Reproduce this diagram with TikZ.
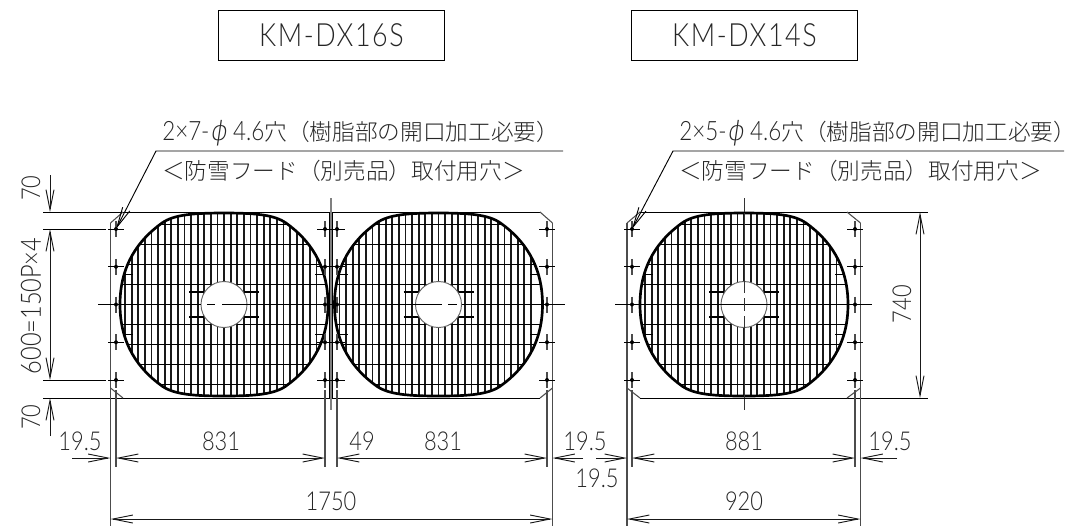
\documentclass[tikz,border=0pt]{standalone}
\usepackage{fontspec}
\usepackage{tikz}
\usetikzlibrary{arrows.meta}
\usetikzlibrary{calc}
\usetikzlibrary{positioning}
\setmainfont{Lato Light}[FakeStretch=0.84]
\newfontfamily\jpfont{Noto Sans CJK JP Light}
\newfontfamily\phifont{DejaVu Sans ExtraLight}[FakeSlant=0.15]

\tikzset{
    >={Straight Barb[length=15pt,width=6pt]},
    thinline/.style={line width=0.7pt},
    edgeline/.style={line width=0.8pt, black!70},
    dimline/.style={draw, line width=0.7pt, black!90},
    dimtext/.style={inner sep=0pt, font=\fontsize{19.5}{20}\selectfont, black!85},
    notetext/.style={inner sep=0pt, anchor=west, font=\fontsize{20}{20}\selectfont, black!85},
    modelbox/.style={draw, line width=0.7pt, minimum width=170pt, minimum height=37.5pt, font=\fontsize{24}{24}\selectfont\addfontfeature{LetterSpace=5}, text=black!85},
}

% grille centred on (#1,304.5)
\newcommand{\grille}[1]{
    \begin{scope}[shift={(#1,304.5)}]
        \begin{scope}
            \clip (-104,0) .. controls (-104,-40) and (-85,-65) .. (-62,-81.5) .. controls (-50,-90) and (-30,-91.5) .. (0,-91.5) .. controls (30,-91.5) and (50,-90) .. (62,-81.5) .. controls (85,-65) and (104,-40) .. (104,0) .. controls (104,40) and (85,65) .. (62,81.5) .. controls (50,90) and (30,91.5) .. (0,91.5) .. controls (-30,91.5) and (-50,90) .. (-62,81.5) .. controls (-85,65) and (-104,40) .. (-104,0) -- cycle;
            \foreach \barx in {-99,-92.4,...,99}
                \path[draw, line width=1.35pt, black!90] (\barx,-95) -- (\barx,95);
            \foreach \bary in {-80,-60,...,80}
                \path[draw, line width=1.3pt] (-110,\bary) -- (110,\bary);
            \foreach \s in {-1,1}
                \path[draw, thinline] (\s*104,-30) -- (\s*91,-30) (\s*104,30) -- (\s*91,30);
        \end{scope}
        \path[draw, line width=2pt] (-104,0) .. controls (-104,-40) and (-85,-65) .. (-62,-81.5) .. controls (-50,-90) and (-30,-91.5) .. (0,-91.5) .. controls (30,-91.5) and (50,-90) .. (62,-81.5) .. controls (85,-65) and (104,-40) .. (104,0) .. controls (104,40) and (85,65) .. (62,81.5) .. controls (50,90) and (30,91.5) .. (0,91.5) .. controls (-30,91.5) and (-50,90) .. (-62,81.5) .. controls (-85,65) and (-104,40) .. (-104,0) -- cycle;
        \path[draw, line width=1pt] (-35,-12.5) -- (35,-12.5) (-35,12.5) -- (35,12.5);
        \path[draw=black!60, fill=white, line width=0.7pt] (0,0) circle (23);
    \end{scope}
}

% mounting hole
\newcommand{\mounthole}[2]{
    \path[draw, thinline] (#1-8,#2) -- (#1+8,#2);
    \path[draw, line width=0.9pt, black!70] (#1,#2-8) -- (#1,#2+8);
    \path[fill] (#1,#2) circle (2);
}

\begin{document}
\begin{tikzpicture}[x=0.75pt, y=-0.75pt]

    \useasboundingbox (0,0) rectangle (1066,526);

    \node[modelbox] (boxa) at (331.5,35) {KM-DX16S};
    \node[modelbox] (boxb) at (744.5,35) {KM-DX14S};

    \grille{224}
    \grille{438.5}
    \grille{744}

    % centre lines
    \path[draw, thinline] (98,304.5) -- (201,304.5) (207,304.5) -- (215,304.5) (222,304.5) -- (441.5,304.5) (448,304.5) -- (457,304.5) (463,304.5) -- (565,304.5);
    \path[draw, thinline] (615,304.5) -- (872,304.5);
    \path[draw, thinline, black!80] (744,198) -- (744,293) (744,298) -- (744,311) (744,316) -- (744,410);

    % outlines
    \path[draw, thinline] (43,212) -- (540,212);
    \path[draw, thinline] (43,398) -- (540,398);
    \path[draw, thinline] (640,212) -- (928,212);
    \path[draw, thinline] (640,398) -- (928,398);
    \path[draw, edgeline] (123,212) -- (110.5,223);
    \path[draw, edgeline] (123,398) -- (110.5,388);
    \path[draw, edgeline] (110.5,223) -- (110.5,526);
    \path[draw, edgeline] (540,212) -- (552.5,223);
    \path[draw, edgeline] (540,398) -- (552.5,388);
    \path[draw, edgeline] (552.5,223) -- (552.5,526);
    \path[draw, edgeline] (640,212) -- (627,223);
    \path[draw, edgeline] (640,398) -- (627,388);
    \path[draw, edgeline] (627,223) -- (627,526);
    \path[draw, edgeline] (847,212) -- (860.5,223);
    \path[draw, edgeline] (847,398) -- (860.5,388);
    \path[draw, edgeline] (860.5,223) -- (860.5,526);

    % divider
    \path[draw, line width=1.6pt, black!50] (331,198) -- (331,410);
    \path[draw, line width=0.9pt, black] (329.5,212) -- (329.5,398) (332.5,212) -- (332.5,398);

    \foreach \y in {229,266.75,304.5,342.25,380} {
        \foreach \x in {116,325,337,547,632,855} {
            \mounthole{\x}{\y}
        }
    }

    % extension lines
    \path[draw, thinline] (43,229) -- (106,229);
    \path[draw, thinline] (43,380) -- (106,380);
    \foreach \x in {116,325,337,547,632,855}
        \path[draw, edgeline] (\x,390) -- (\x,467);

    % leaders
    \coordinate (hola) at (116,229);
    \coordinate (kinka) at (156,151);
    \coordinate (enda) at (563,151);
    \coordinate (holb) at (632,229);
    \coordinate (kinkb) at (673,151);
    \coordinate (endb) at (1064,151);
    \path[draw, thinline, ->] (enda) -- (kinka) -- (hola);
    \path[draw, thinline, ->] (endb) -- (kinkb) -- (holb);

    \node[notetext] (notea) at (162,133) {2×7-{\phifont ϕ} 4.6{\jpfont\fontsize{17}{17}\selectfont 穴（樹脂部の開口加工必要）}};
    \node[notetext] (noteb) at (162,171) {\jpfont\fontsize{17}{17}\selectfont ＜防雪フード（別売品）取付用穴＞};
    \node[notetext] (notec) at (679,133) {2×5-{\phifont ϕ} 4.6{\jpfont\fontsize{17}{17}\selectfont 穴（樹脂部の開口加工必要）}};
    \node[notetext] (noted) at (679,171) {\jpfont\fontsize{17}{17}\selectfont ＜防雪フード（別売品）取付用穴＞};

    % dimensions, left
    \coordinate (vtop) at (50,175);
    \coordinate (va) at (50,212);
    \coordinate (vb) at (50,229);
    \coordinate (vc) at (50,380);
    \coordinate (vd) at (50,398);
    \coordinate (vend) at (50,436);
    \path[dimline, ->] (vtop) -- (va);
    \path[dimline, <->] (vb) -- (vc);
    \path[dimline, ->] (vend) -- (vd);
    \node[dimtext, rotate=90] (lva) at (31,188) {70};
    \node[dimtext, rotate=90, font=\fontsize{21}{21}\selectfont] (lvb) at (31,306) {600=150P×4};
    \node[dimtext, rotate=90] (lvc) at (31,417) {70};

    % dimensions, right
    \coordinate (wa) at (920,212);
    \coordinate (wb) at (920,398);
    \path[dimline, <->] (wa) -- (wb);
    \node[dimtext, rotate=90] (lwa) at (902,304) {740};

    % dimensions, row of pitches
    \foreach \name/\x in {p0/72,p1/110.5,p2/116,p3/325,p4/337,p6/547,p7/552.5,p8/583,p9/596,p10/627,p11/632,p12/855,p13/860.5,p14/897}
        \coordinate (\name) at (\x,458);
    \path[dimline, ->] (p0) -- (p1);
    \path[dimline, <->] (p2) -- (p3);
    \path[dimline, <->] (p4) -- (p6);
    \path[dimline, ->] (p8) -- (p7);
    \path[dimline, ->] (p9) -- (p10);
    \path[dimline, <->] (p11) -- (p12);
    \path[dimline, ->] (p14) -- (p13);

    \node[dimtext] (la) at (80,441) {19.5};
    \node[dimtext] (lb) at (221,441) {831};
    \node[dimtext] (lc) at (362,441) {49};
    \node[dimtext] (ld) at (443,441) {831};
    \node[dimtext] (le) at (585,441) {19.5};
    \node[dimtext] (lf) at (597,478) {19.5};
    \node[dimtext] (lg) at (744,441) {881};
    \node[dimtext] (lh) at (890,441) {19.5};

    % dimensions, overall
    \coordinate (qa) at (110.5,519);
    \coordinate (qb) at (552.5,519);
    \coordinate (qc) at (627,519);
    \coordinate (qd) at (860.5,519);
    \path[dimline, <->] (qa) -- (qb);
    \path[dimline, <->] (qc) -- (qd);
    \node[dimtext] (li) at (331,501) {1750};
    \node[dimtext] (lj) at (744,501) {920};

\end{tikzpicture}
\end{document}
